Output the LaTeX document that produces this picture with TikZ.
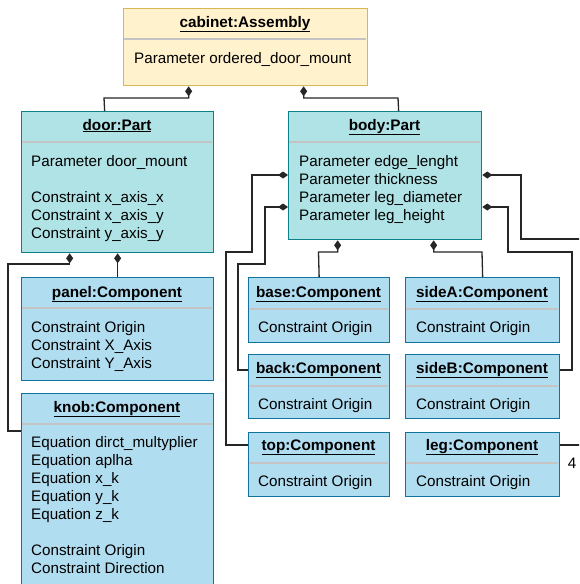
\documentclass[tikz,border=0pt]{standalone}
\usepackage{fontspec}
\setmainfont{Liberation Sans}
\usetikzlibrary{arrows.meta,calc}
\definecolor{asmfill}{HTML}{FFF2CC}
\definecolor{asmdraw}{HTML}{D6B656}
\definecolor{partfill}{HTML}{B0E3E6}
\definecolor{partdraw}{HTML}{0E8088}
\definecolor{compfill}{HTML}{B1DDF0}
\definecolor{compdraw}{HTML}{10739E}
\definecolor{divcol}{HTML}{C4C4C4}
\tikzset{
  box/.style={draw, line width=1.3pt, inner sep=0pt, anchor=north west, rectangle},
  asmbox/.style={box, fill=asmfill, draw=asmdraw},
  partbox/.style={box, fill=partfill, draw=partdraw},
  compbox/.style={box, fill=compfill, draw=compdraw},
  divider/.style={draw=divcol, line width=1.6pt},
  ttl/.style={inner sep=0pt, anchor=base, font=\fontsize{15.3}{18}\selectfont\bfseries},
  txt/.style={inner sep=0pt, anchor=base west, font=\fontsize{15.2}{18}\selectfont},
  comp/.style={draw=black!85, line width=1.3pt, {Diamond[length=10pt,width=7pt]}-},
  plain/.style={draw=black!85, line width=1.3pt},
}
\begin{document}
\begin{tikzpicture}[x=1pt,y=-1pt]
\useasboundingbox[fill=white] (0,0) rectangle (579,584);
\clip (0,0) rectangle (579,584);

% cabinet
\node[asmbox, minimum width=244pt, minimum height=77pt] (cabinet) at (123,8) {};
\draw[divider] (124,39) -- (366,39);
\node[ttl] (cabinetT) at (245,27) {\underline{cabinet:Assembly}};
\node[txt] (cabinet1) at (134,63) {Parameter ordered\_door\_mount};

% door
\node[partbox, minimum width=192pt, minimum height=141pt] (door) at (21,111) {};
\draw[divider] (22,142) -- (212,142);
\node[ttl] (doorT) at (117,130) {\underline{door:Part}};
\node[txt] (door1) at (31,166) {Parameter door\_mount};
\node[txt] (door2) at (31,202) {Constraint x\_axis\_x};
\node[txt] (door3) at (31,220) {Constraint x\_axis\_y};
\node[txt] (door4) at (31,238) {Constraint y\_axis\_y};

% body
\node[partbox, minimum width=193pt, minimum height=128pt] (body) at (288,111) {};
\draw[divider] (289,142) -- (480,142);
\node[ttl] (bodyT) at (384.5,130) {\underline{body:Part}};
\node[txt] (body1) at (299,166) {Parameter edge\_lenght};
\node[txt] (body2) at (299,184) {Parameter thickness};
\node[txt] (body3) at (299,202) {Parameter leg\_diameter};
\node[txt] (body4) at (299,220) {Parameter leg\_height};

% panel
\node[compbox, minimum width=192pt, minimum height=103pt] (panel) at (21,277) {};
\draw[divider] (22,308) -- (212,308);
\node[ttl] (panelT) at (117,297) {\underline{panel:Component}};
\node[txt] (panel1) at (31,332) {Constraint Origin};
\node[txt] (panel2) at (31,350) {Constraint X\_Axis};
\node[txt] (panel3) at (31,368) {Constraint Y\_Axis};

% knob
\node[compbox, minimum width=192pt, minimum height=210pt] (knob) at (21,393) {};
\draw[divider] (22,424) -- (212,424);
\node[ttl] (knobT) at (117,412) {\underline{knob:Component}};
\node[txt] (knob1) at (31,447) {Equation dirct\_multyplier};
\node[txt] (knob2) at (31,465) {Equation aplha};
\node[txt] (knob3) at (31,483) {Equation x\_k};
\node[txt] (knob4) at (31,501) {Equation y\_k};
\node[txt] (knob5) at (31,519) {Equation z\_k};
\node[txt] (knob6) at (31,555) {Constraint Origin};
\node[txt] (knob7) at (31,573) {Constraint Direction};

% components of body
\node[compbox, minimum width=141pt, minimum height=65pt] (base) at (248,277) {};
\draw[divider] (249,309) -- (388,309);
\node[ttl] (baseT) at (318.5,297) {\underline{base:Component}};
\node[txt] (base1) at (258,332) {Constraint Origin};

\node[compbox, minimum width=154pt, minimum height=65pt] (sideA) at (405,277) {};
\draw[divider] (406,309) -- (558,309);
\node[ttl] (sideAT) at (482,297) {\underline{sideA:Component}};
\node[txt] (sideA1) at (416,332) {Constraint Origin};

\node[compbox, minimum width=141pt, minimum height=64pt] (back) at (248,354) {};
\draw[divider] (249,386) -- (388,386);
\node[ttl] (backT) at (318.5,373) {\underline{back:Component}};
\node[txt] (back1) at (258,409) {Constraint Origin};

\node[compbox, minimum width=154pt, minimum height=64pt] (sideB) at (405,354) {};
\draw[divider] (406,386) -- (558,386);
\node[ttl] (sideBT) at (482,373) {\underline{sideB:Component}};
\node[txt] (sideB1) at (416,409) {Constraint Origin};

\node[compbox, minimum width=141pt, minimum height=64pt] (top) at (248,432) {};
\draw[divider] (249,463) -- (388,463);
\node[ttl] (topT) at (318.5,450) {\underline{top:Component}};
\node[txt] (top1) at (258,486) {Constraint Origin};

\node[compbox, minimum width=154pt, minimum height=64pt] (leg) at (405,432) {};
\draw[divider] (406,463) -- (558,463);
\node[ttl] (legT) at (482,450) {\underline{leg:Component}};
\node[txt] (leg1) at (416,486) {Constraint Origin};

% connectors
\draw[comp] ([xshift=-57pt]cabinet.south) |- (104,98) -- ([xshift=-13pt]door.north);
\draw[comp] ([xshift=58pt]cabinet.south) |- (398,98) -- ([xshift=13.5pt]body.north);
\draw[comp] ([xshift=-48pt]door.south) |- (8,264) |- ([yshift=-38pt]knob.north west);
\draw[comp] (door.south) -- (panel.north);
\draw[comp] ([yshift=-64pt]body.north west) -| (252,252) -| (226,445) -- ([yshift=-13pt]top.north west);
\draw[comp] ([yshift=-96pt]body.north west) -| (265,264) -| (238,370) -- ([yshift=-16pt]back.north west);
\draw[comp] ([xshift=-47.5pt]body.south) |- (318.5,252) -- (base.north);
\draw[comp] ([xshift=48.5pt]body.south) |- (482,252) -- (sideA.north);
\coordinate (offR1) at (590,239);
\draw[comp] ([yshift=-64pt]body.north east) -| (521,239) -- (offR1);
\draw[comp] ([yshift=-96pt]body.north east) -| (508,252) -| (572,370) -- ([yshift=-16pt]sideB.north east);
\coordinate (offR2) at (590,445);
\draw[plain] ([yshift=-13pt]leg.north east) -- (offR2);
\node[txt, anchor=base] (mult) at (572,468) {4};
\end{tikzpicture}
\end{document}
